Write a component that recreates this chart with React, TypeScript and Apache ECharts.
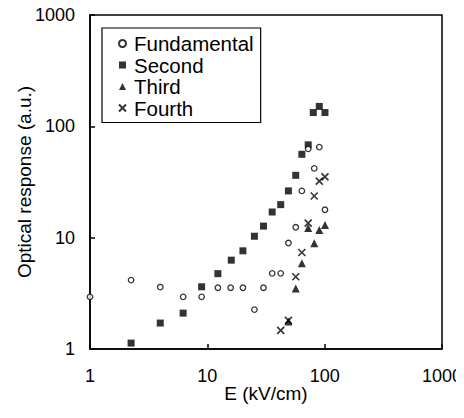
import React, { useEffect, useRef } from "react";
import * as echarts from "echarts";

const xTicks = [1, 10, 100, 1000];
const yTicks = [1, 10, 100, 1000];

const fundamentalX = [1, 2.24, 3.97, 6.22, 8.94, 12.3, 15.8, 20.1, 25.2, 30.1, 35.7, 42.2, 49.1, 56.7, 63.9, 72.4, 81.5, 90, 100.6];
const fundamentalY = [2.94, 4.16, 3.6, 2.94, 2.94, 3.55, 3.55, 3.55, 2.26, 3.55, 4.78, 4.78, 8.95, 12.4, 26.3, 62.8, 41.9, 65, 17.8];

const secondX = [2.24, 3.97, 6.22, 8.94, 12.3, 16, 20.1, 25.2, 30.1, 35.7, 42.2, 49.1, 56.7, 63.9, 72.4, 80, 90, 100.6];
const secondY = [1.13, 1.71, 2.1, 3.62, 4.75, 6.28, 7.62, 10.3, 12.7, 17, 19.8, 26.3, 36.3, 56.1, 68.2, 133, 151, 133];

const thirdX = [49.1, 56.7, 63.9, 72.4, 81.5, 90, 100.6];
const thirdY = [1.77, 3.5, 5.9, 12.2, 8.89, 11.7, 13];

const fourthX = [42.2, 49.1, 56.7, 63.9, 72.4, 81.5, 90, 100.6];
const fourthY = [1.47, 1.81, 4.46, 7.36, 13.5, 23.7, 32.2, 35.2];

const seriesNames = ["Fundamental", "Second", "Third", "Fourth"];

const zip = (xs: number[], ys: number[]) => xs.map((x, i) => [x, ys[i]]);

const FONT = "Liberation Sans, Arial, Helvetica, sans-serif";
const CROSS = "path://M0,0L10,10M10,0L0,10";

export default function App() {
  const ref = useRef<HTMLDivElement>(null);
  useEffect(() => {
    if (!ref.current) return;
    const chart = echarts.init(ref.current, null, { renderer: "svg" });
    const axisCommon = {
      type: "log" as const,
      logBase: 10,
      min: 1,
      max: 1000,
      nameMoveOverlap: false,
      axisLine: { show: true, lineStyle: { color: "#000", width: 1.5 } },
      axisTick: { show: true, inside: true, length: 5, lineStyle: { color: "#000", width: 1.5 } },
      minorTick: { show: false },
      splitLine: { show: false },
      nameTextStyle: { fontFamily: FONT, fontSize: 19, color: "#000" },
    };
    chart.setOption({
      animation: false,
      backgroundColor: "#fff",
      grid: {
        left: 90,
        right: 22,
        top: 15,
        bottom: 69,
        outerBoundsMode: "none",
        show: true,
        borderColor: "#000",
        borderWidth: 1.5,
        backgroundColor: "transparent",
      },
      legend: {
        orient: "vertical",
        left: 102,
        top: 28,
        data: seriesNames,
        borderColor: "#000",
        borderWidth: 1.2,
        padding: [5, 7, 4, 16],
        itemWidth: 7,
        itemHeight: 7,
        itemGap: 0.5,
        textStyle: { fontFamily: FONT, fontSize: 20.5, color: "#000", padding: [0, 0, 0, 3] },
        backgroundColor: "#fff",
      },
      xAxis: {
        ...axisCommon,
        name: "E (kV/cm)",
        nameLocation: "middle",
        nameGap: 35,
        axisLabel: {
          fontFamily: FONT,
          fontSize: 18,
          color: "#000",
          margin: 18,
          formatter: (v: number) => (xTicks.includes(Math.round(v)) ? String(Math.round(v)) : ""),
        },
      },
      yAxis: {
        ...axisCommon,
        name: "Optical response (a.u.)",
        nameLocation: "middle",
        nameGap: 56,
        axisLabel: {
          fontFamily: FONT,
          fontSize: 18,
          color: "#000",
          margin: 15,
          formatter: (v: number) => (yTicks.includes(Math.round(v)) ? String(Math.round(v)) : ""),
        },
      },
      series: [
        {
          name: seriesNames[0],
          type: "scatter",
          symbol: "circle",
          symbolSize: 5.5,
          clip: false,
          z: 3,
          itemStyle: { color: "#fff", borderColor: "#000", borderWidth: 1.3 },
          data: zip(fundamentalX, fundamentalY),
        },
        {
          name: seriesNames[1],
          type: "scatter",
          symbol: "rect",
          symbolSize: 7,
          clip: false,
          itemStyle: { color: "#000" },
          data: zip(secondX, secondY),
        },
        {
          name: seriesNames[2],
          type: "scatter",
          symbol: "triangle",
          symbolSize: 8,
          clip: false,
          itemStyle: { color: "#000" },
          data: zip(thirdX, thirdY),
        },
        {
          name: seriesNames[3],
          type: "scatter",
          symbol: CROSS,
          symbolSize: 7,
          clip: false,
          itemStyle: { color: "#000", borderColor: "#000", borderWidth: 1.6 },
          data: zip(fourthX, fourthY),
        },
      ],
    });
    return () => chart.dispose();
  }, []);
  return <div ref={ref} style={{ width: 464, height: 418, margin: -8 }} />;
}
